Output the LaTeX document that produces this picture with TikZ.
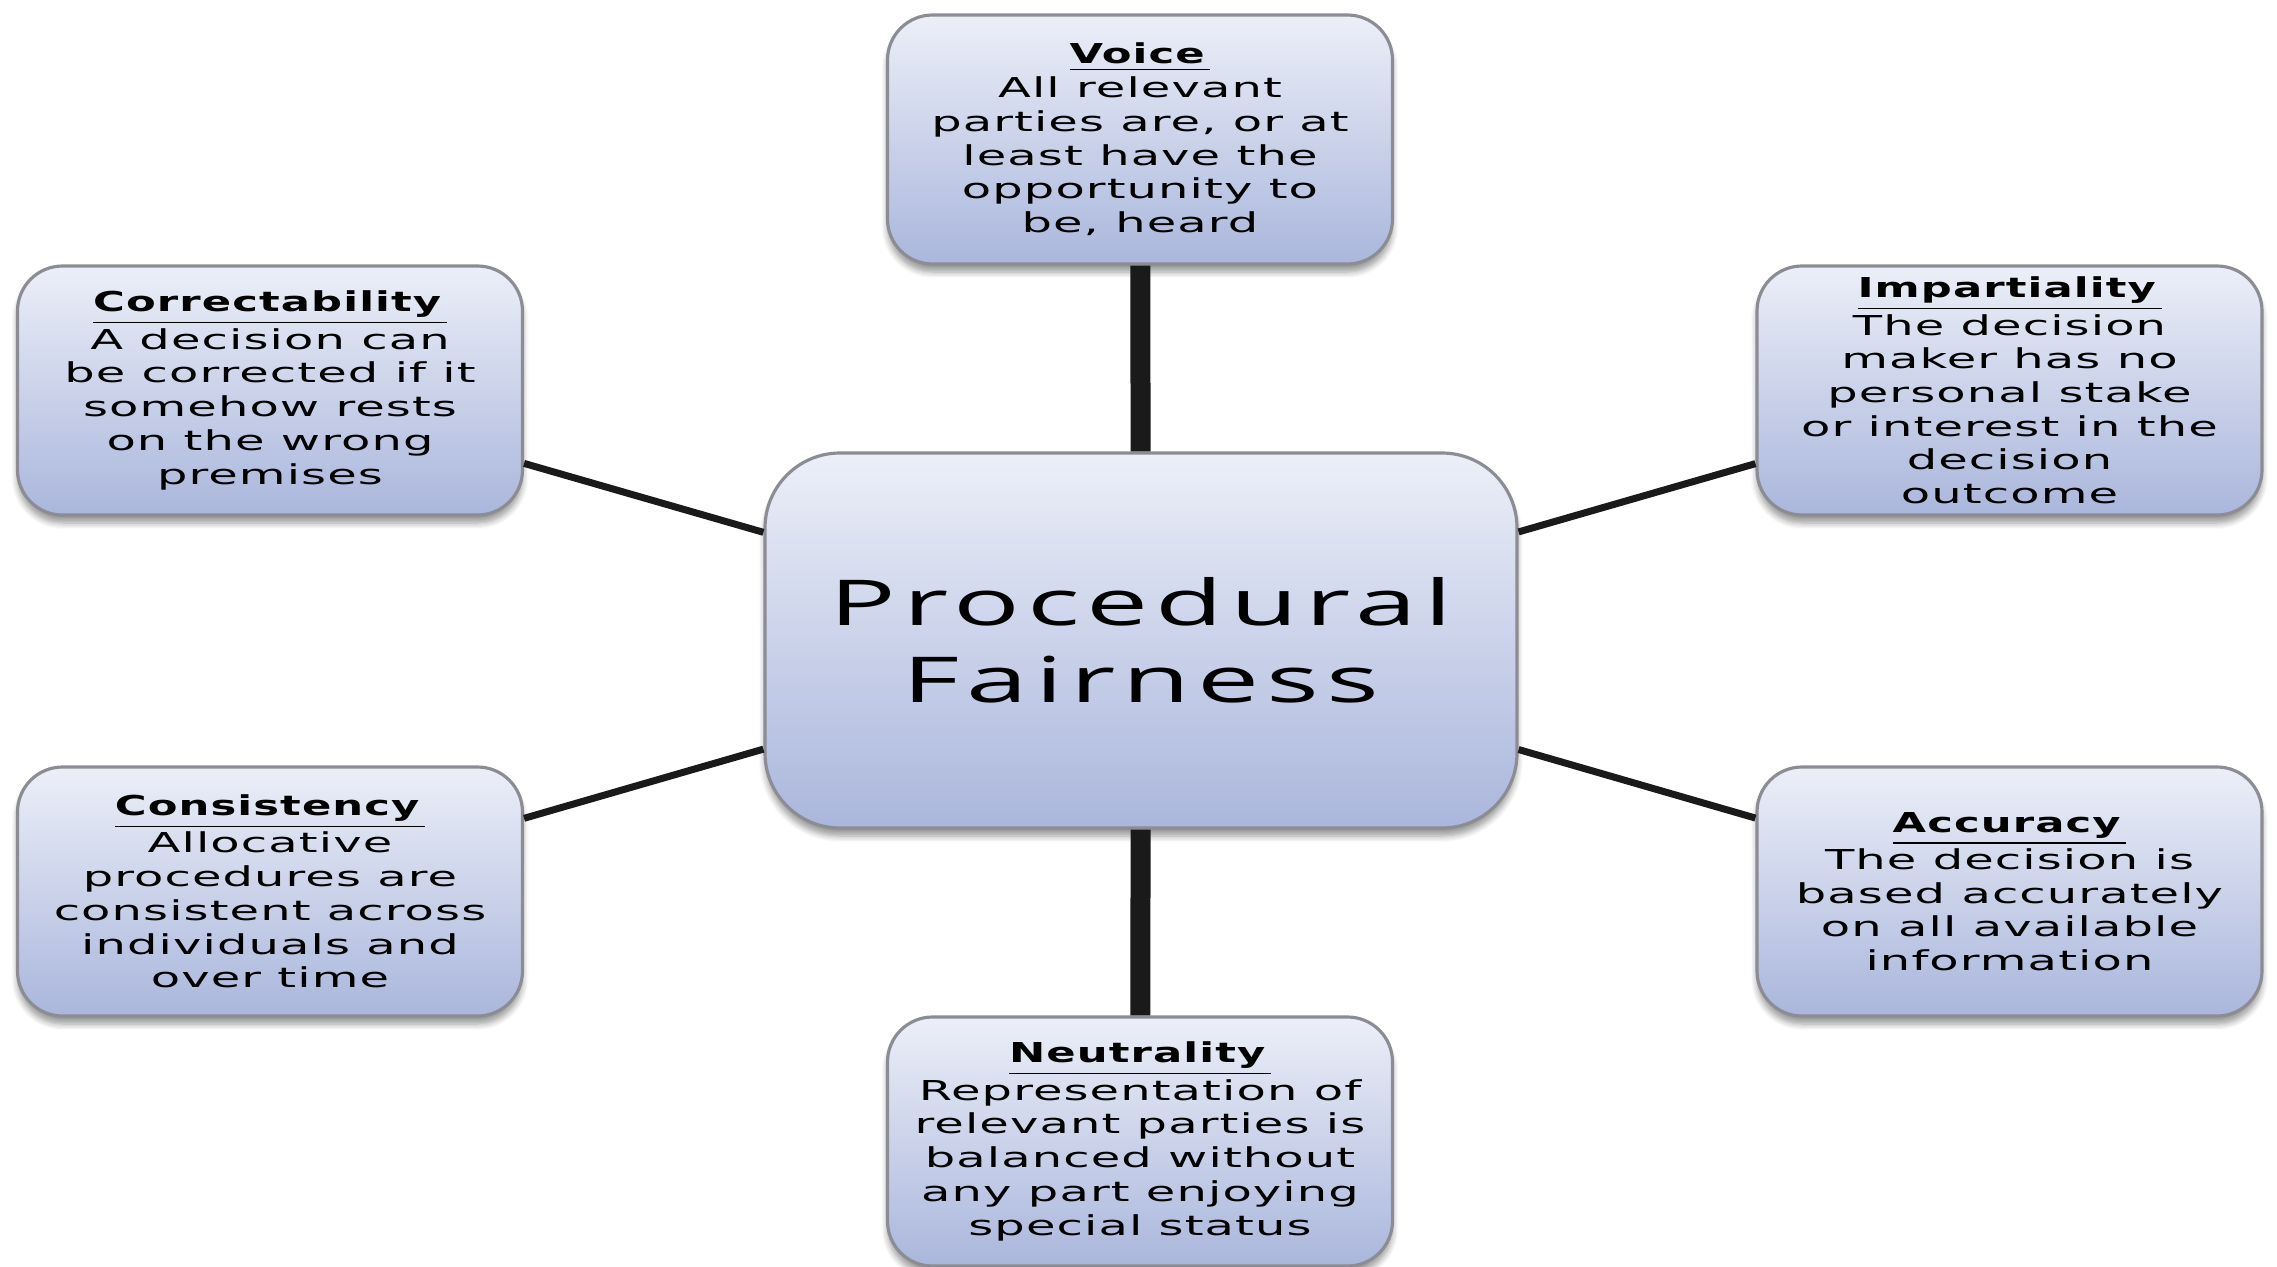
\documentclass[tikz,border=0pt]{standalone}
\usepackage{fontspec}
\usetikzlibrary{shadows.blur}
\newfontfamily\boxfont{DejaVu Sans}[FakeStretch=1.75,LetterSpace=4,BoldFeatures={FakeStretch=1.58}]
\newfontfamily\hubfont{Open Sans}[FakeStretch=1.75,LetterSpace=11]
\definecolor{boxtop}{RGB}{236,239,248}
\definecolor{boxbot}{RGB}{170,182,220}
\definecolor{boxrim}{RGB}{140,140,148}
\definecolor{linkcol}{RGB}{26,26,26}
\newcommand{\heading}[1]{\underline{\textbf{#1}\,}}

\begin{document}
\begin{tikzpicture}[
  aspect/.style={rectangle, rounded corners=0.45cm, draw=boxrim, line width=0.9pt,
    top color=boxtop, bottom color=boxbot, minimum width=5.05cm, minimum height=2.49cm,
    inner sep=0pt, align=center, font=\boxfont\fontsize{7.8}{9.6}\selectfont,
    blur shadow={shadow xshift=0pt, shadow yshift=-0.08cm, shadow blur steps=6, shadow opacity=40}},
  hub/.style={aspect, rounded corners=0.75cm, minimum width=7.52cm, minimum height=3.75cm,
    font=\hubfont\fontsize{18}{21.9}\selectfont},
  spoke/.style={draw=linkcol, line width=0.07cm},
  trunk/.style={spoke, line width=0.2cm}]
  \useasboundingbox (0,0) rectangle (22.77,-12.67);

  \node[hub] (fair) at (11.41,-6.405) {Procedural\\Fairness};
  \node[aspect] (voice) at (11.40,-1.395)
    {\heading{Voice}\\All relevant\\parties are, or at\\least have the\\opportunity to\\be, heard};
  \node[aspect] (corr) at (2.70,-3.905)
    {\heading{Correctability}\\A decision can\\be corrected if it\\somehow rests\\on the wrong\\premises};
  \node[aspect] (imp) at (20.095,-3.905)
    {\heading{Impartiality}\\The decision\\maker has no\\personal stake\\or interest in the\\decision\\outcome};
  \node[aspect] (cons) at (2.70,-8.915)
    {\heading{Consistency}\\Allocative\\procedures are\\consistent across\\individuals and\\over time};
  \node[aspect] (acc) at (20.095,-8.915)
    {\heading{Accuracy}\\The decision is\\based accurately\\on all available\\information};
  \node[aspect] (neut) at (11.40,-11.415)
    {\heading{Neutrality}\\Representation of\\relevant parties is\\balanced without\\any part enjoying\\special status};

  \draw[trunk] (voice) -- (fair);
  \draw[trunk] (neut) -- (fair);
  \draw[spoke] (corr) -- (fair);
  \draw[spoke] (imp) -- (fair);
  \draw[spoke] (cons) -- (fair);
  \draw[spoke] (acc) -- (fair);
\end{tikzpicture}
\end{document}
